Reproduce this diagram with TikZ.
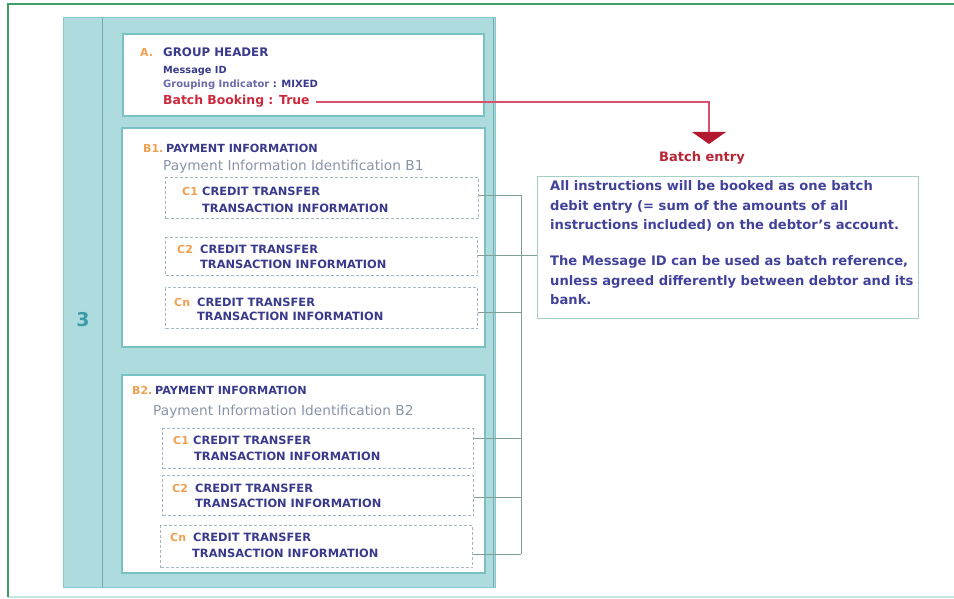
\documentclass[tikz,border=0pt]{standalone}
\usepackage{fontspec}
\setmainfont{DejaVu Sans}
\usetikzlibrary{arrows.meta}

\definecolor{frameGreen}{HTML}{3F9F6A}
\definecolor{frameLight}{HTML}{C6E6E0}
\definecolor{panelFill}{HTML}{ADDBDE}
\definecolor{panelEdge}{HTML}{86C8CB}
\definecolor{boxEdge}{HTML}{78C2C3}
\definecolor{cEdge}{HTML}{A6B6C6}
\definecolor{navy}{HTML}{3A3A8C}
\definecolor{labOrange}{HTML}{F0A050}
\definecolor{idGray}{HTML}{8A94A8}
\definecolor{bookRed}{HTML}{CC2A3C}
\definecolor{lineRed}{HTML}{D8506A}
\definecolor{tipRed}{HTML}{B4182E}
\definecolor{connGray}{HTML}{7E9E98}
\definecolor{noteEdge}{HTML}{A3CFC6}
\definecolor{noteText}{HTML}{42429A}
\definecolor{numTeal}{HTML}{3A9CA6}

\newcommand\fsz[2]{\fontsize{#1}{#2}\selectfont}

\begin{document}
\begin{tikzpicture}[x=1pt,y=-1pt,
  txt/.style={inner sep=0pt,anchor=base west},
  lab/.style={txt,text=labOrange,font=\fsz{11}{13}\bfseries},
  head/.style={txt,text=navy,font=\fsz{11.8}{13}\bfseries},
  ctext/.style={txt,text=navy,font=\fsz{11.4}{13}\bfseries},
  idtext/.style={txt,text=idGray,font=\fsz{13.7}{16}},
  notetext/.style={txt,text=noteText,font=\fsz{13.1}{15}\bfseries},
  whitebox/.style={draw=boxEdge,line width=1.5pt,fill=white},
  cbox/.style={draw=cEdge,line width=1.1pt,dash pattern=on 3pt off 2pt,fill=white,
               inner sep=0pt,anchor=north west},
  conn/.style={draw=connGray,line width=0.8pt},
  flagline/.style={draw=lineRed,line width=1.2pt}]

\useasboundingbox (0,0) rectangle (954,599);
\fill[white] (0,0) rectangle (954,599);

% outer frame
\draw[frameLight,line width=1.2pt] (8,597) -- (954,597);
\draw[frameGreen,line width=1.6pt] (954,4) -- (8,4) -- (8,597);

% teal panel with the side strip
\draw[panelEdge,fill=panelFill,line width=1pt] (63,18) rectangle (495,587);
\draw[panelEdge!85!black,line width=1pt] (102,18) -- (102,587);
\draw[panelEdge!85!black,line width=1pt] (493,18) -- (493,587);
\node[text=numTeal,font=\fsz{19}{22}\bfseries,inner sep=0pt] (num) at (83,320) {3};

% A. group header
\draw[whitebox] (123,34) rectangle (484,116);
\node[lab] (la) at (140,57) {A.};
\node[head] (gh) at (163,57) {GROUP HEADER};
\node[txt,text=navy,font=\fsz{9.8}{12}\bfseries] (mid) at (163,74) {Message ID};
\node[txt,text=navy,font=\fsz{10}{12}\bfseries] (grp) at (163,88)
  {{\color{navy!75!white}Grouping Indicator} : MIXED};
\node[txt,text=bookRed,font=\fsz{12.4}{14}\bfseries] (bb) at (163,105) {Batch Booking : True};

% B1 payment information
\draw[whitebox] (122,128) rectangle (485,347);
\node[lab] (lb1) at (143,153) {B1.};
\node[head,font=\fsz{11.2}{13}\bfseries] (pi1) at (166,153) {PAYMENT INFORMATION};
\node[idtext] (id1) at (163,171) {Payment Information Identification B1};

\node[cbox,minimum width=313,minimum height=41] (c11) at (165,177) {};
\node[lab] at (182,196) {C1};
\node[ctext] at (202,196) {CREDIT TRANSFER};
\node[ctext] at (202,212) {TRANSACTION INFORMATION};

\node[cbox,minimum width=312,minimum height=38] (c12) at (165,237) {};
\node[lab] at (177,253) {C2};
\node[ctext] at (200,253) {CREDIT TRANSFER};
\node[ctext] at (200,269) {TRANSACTION INFORMATION};

\node[cbox,minimum width=312,minimum height=41] (c13) at (165,287) {};
\node[lab] at (174,306) {Cn};
\node[ctext] at (197,306) {CREDIT TRANSFER};
\node[ctext] at (197,320) {TRANSACTION INFORMATION};

% B2 payment information
\draw[whitebox] (122,375) rectangle (485,573);
\node[lab] (lb2) at (132,394) {B2.};
\node[head,font=\fsz{11.2}{13}\bfseries] (pi2) at (155,394) {PAYMENT INFORMATION};
\node[idtext] (id2) at (153,415) {Payment Information Identification B2};

\node[cbox,minimum width=311,minimum height=40] (c21) at (162,428) {};
\node[lab] at (173,444) {C1};
\node[ctext] at (193,444) {CREDIT TRANSFER};
\node[ctext] at (194,460) {TRANSACTION INFORMATION};

\node[cbox,minimum width=311,minimum height=40] (c22) at (162,475) {};
\node[lab] at (172,492) {C2};
\node[ctext] at (195,492) {CREDIT TRANSFER};
\node[ctext] at (195,507) {TRANSACTION INFORMATION};

\node[cbox,minimum width=312,minimum height=42] (c23) at (160,525) {};
\node[lab] at (170,541) {Cn};
\node[ctext] at (193,541) {CREDIT TRANSFER};
\node[ctext] at (192,557) {TRANSACTION INFORMATION};

% explanation box
\node[draw=noteEdge,line width=1.2pt,fill=white,inner sep=0pt,anchor=north west,
      minimum width=381,minimum height=142] (note) at (537,176) {};
\node[notetext] at (550,190.5) {All instructions will be booked as one batch};
\node[notetext] at (550,210.5) {debit entry (= sum of the amounts of all};
\node[notetext] at (550,229.5) {instructions included) on the debtor's account.};
\node[notetext] at (550,265.5) {The Message ID can be used as batch reference,};
\node[notetext] at (550,285.5) {unless agreed differently between debtor and its};
\node[notetext] at (550,304.5) {bank.};

% batch entry label and arrow from the batch booking flag
\node[text=bookRed!90!black,font=\fsz{13}{15}\bfseries,inner sep=0pt] (entry) at (702,158) {Batch entry};
\coordinate (bend) at (709,102);
\coordinate (tip) at (709,144);
\draw[flagline] ([xshift=6pt]bb.east |- bend) -- (bend) -- (709,133);
\fill[tipRed] (692,132) -- (726,132) -- (tip) -- cycle;

% connectors from the transactions to the shared bus
\coordinate (j11) at (521,195);
\coordinate (j12) at (521,255);
\coordinate (j13) at (521,312);
\coordinate (j21) at (521,438);
\coordinate (j22) at (521,497);
\coordinate (j23) at (521,554);
\draw[conn] (j11) -- (j23);
\draw[conn] (c11.east |- j11) -- (j11);
\draw[conn] (c12.east |- j12) -- (note.west |- j12);
\draw[conn] (c13.east |- j13) -- (j13);
\draw[conn] (c21.east |- j21) -- (j21);
\draw[conn] (c22.east |- j22) -- (j22);
\draw[conn] (c23.east |- j23) -- (j23);

\end{tikzpicture}
\end{document}
